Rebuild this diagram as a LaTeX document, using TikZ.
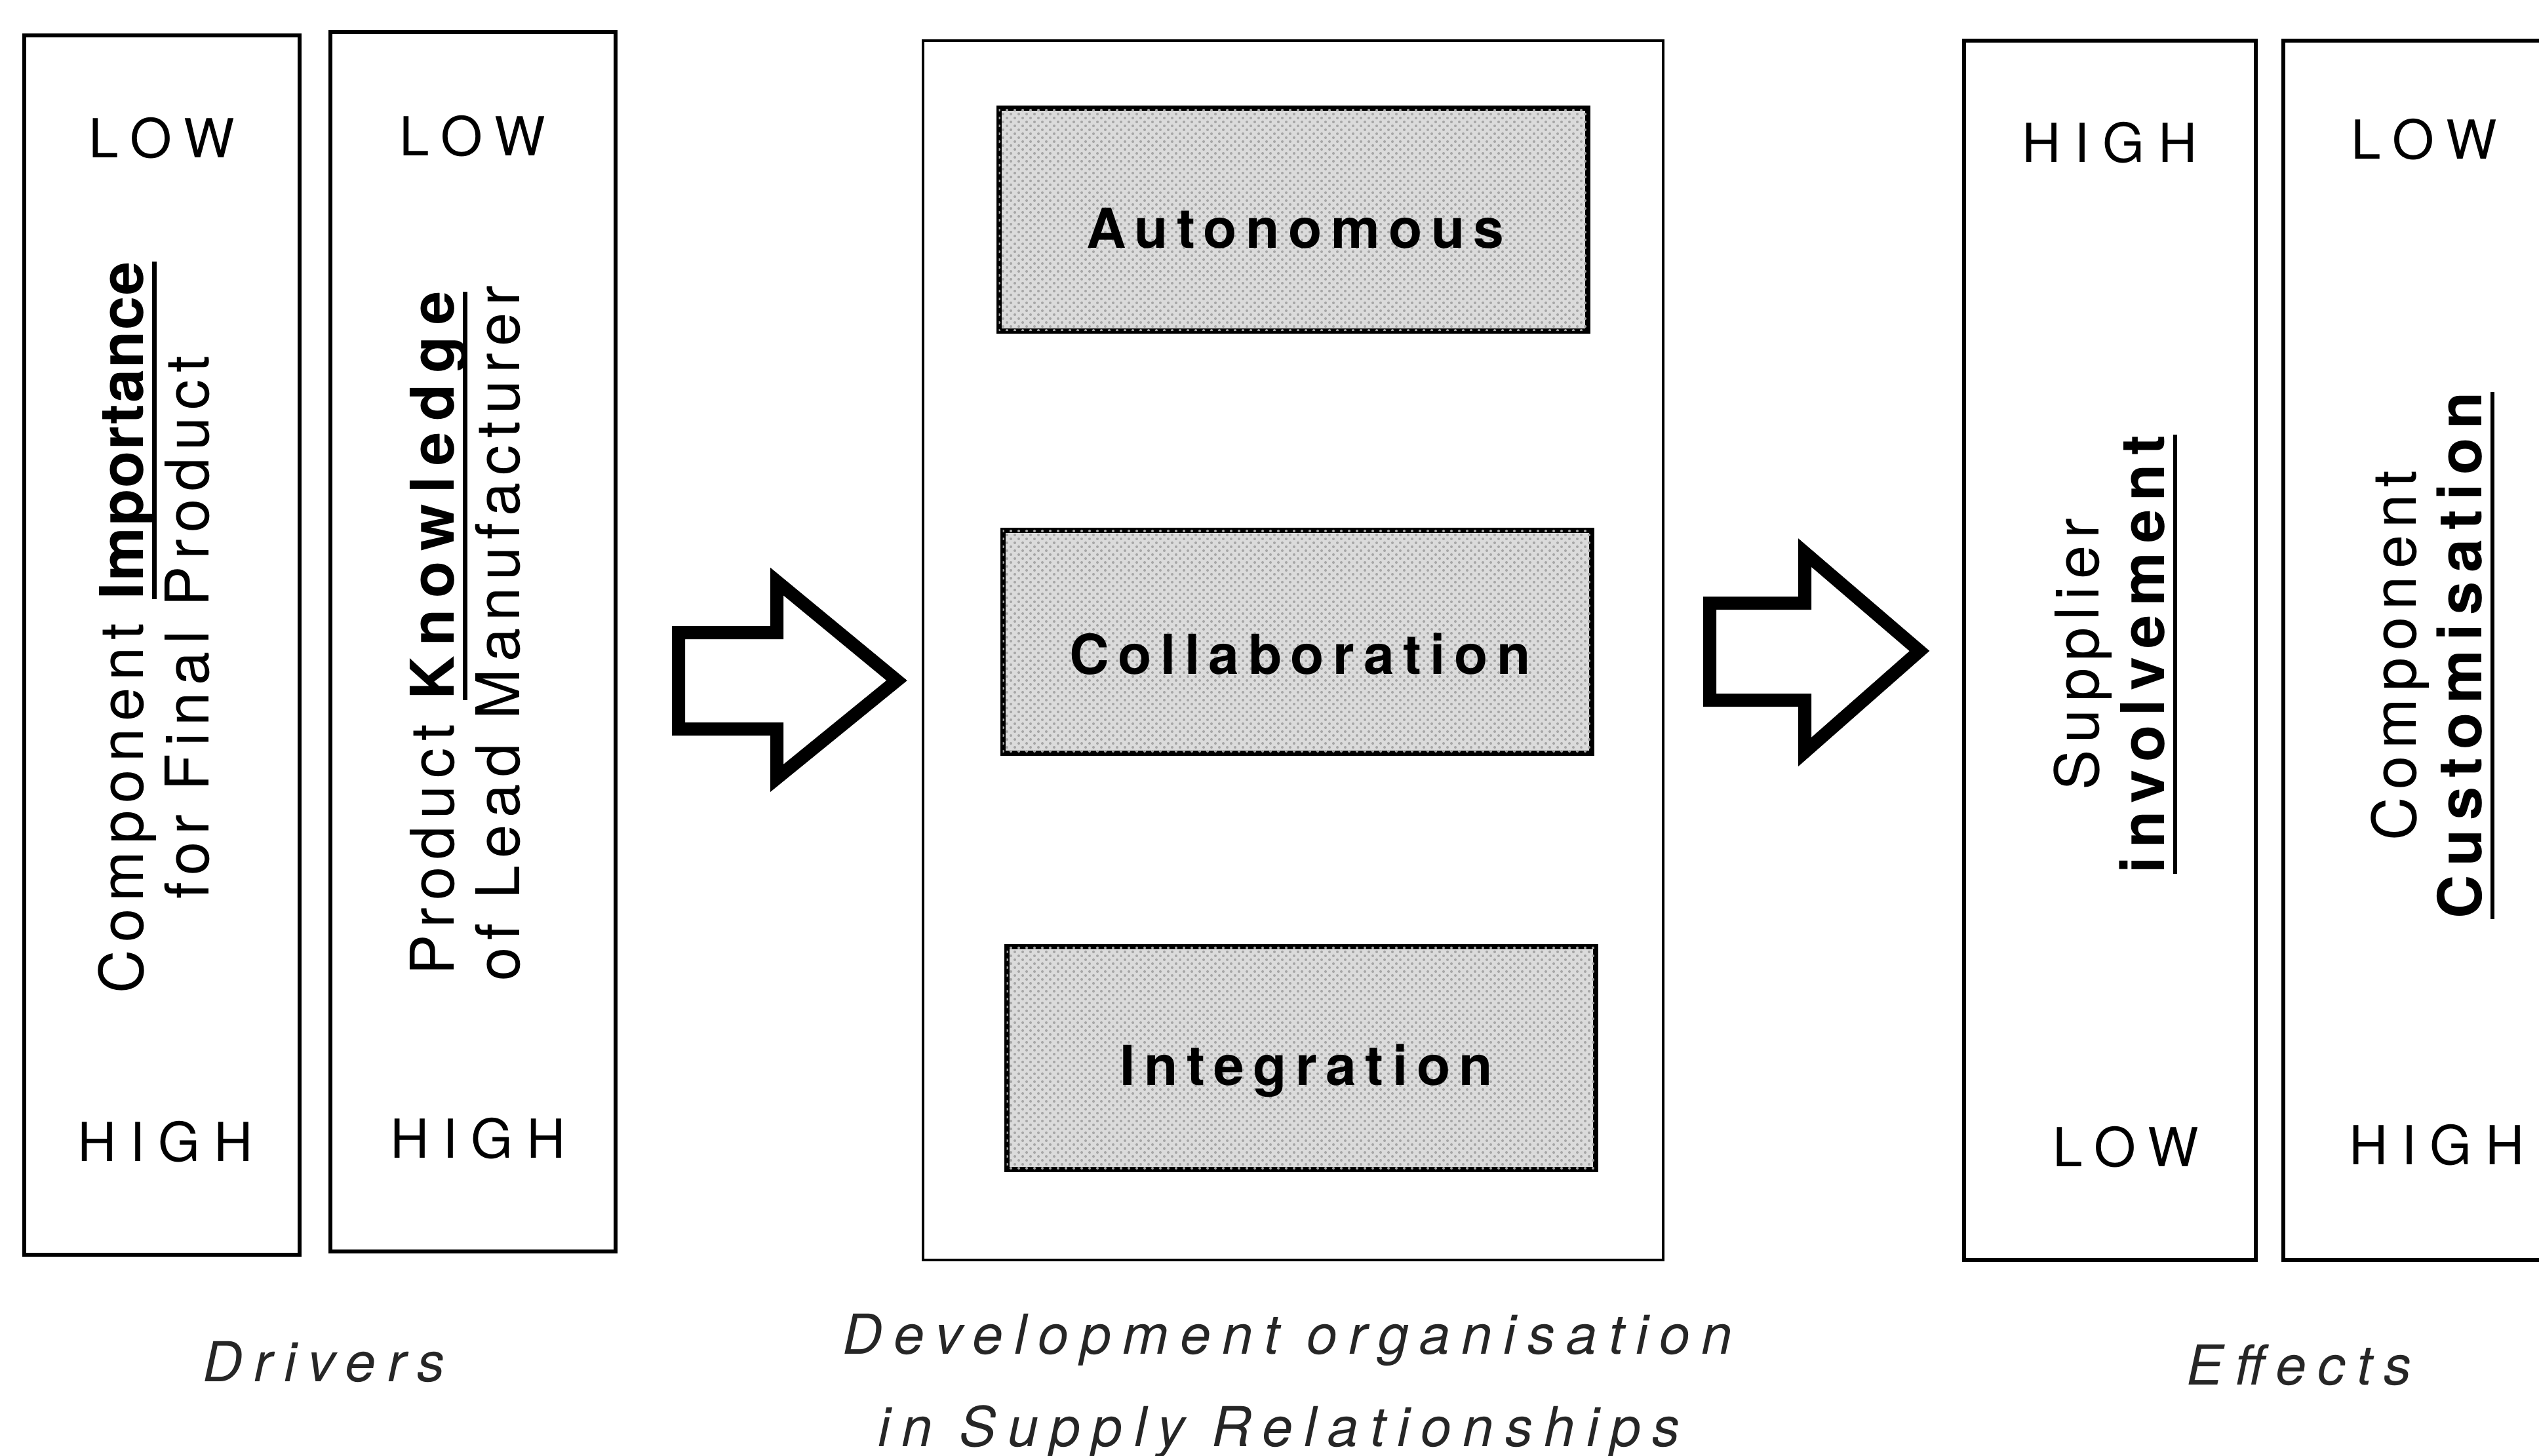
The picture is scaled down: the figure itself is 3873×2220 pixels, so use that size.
\documentclass[tikz,border=0pt]{standalone}
\usepackage{fontspec}
\setmainfont{TeX Gyre Heros}
\newfontfamily\lhfont[LetterSpace=25]{TeX Gyre Heros}
\newfontfamily\vfont[LetterSpace=12]{TeX Gyre Heros}
\newfontfamily\vbnarrow[LetterSpace=2]{TeX Gyre Heros}
\newfontfamily\vbwide[LetterSpace=15]{TeX Gyre Heros}
\newfontfamily\vbwider[LetterSpace=18]{TeX Gyre Heros}
\newfontfamily\modefont[LetterSpace=16]{TeX Gyre Heros}
\newfontfamily\capfont[LetterSpace=21]{TeX Gyre Heros}
\usetikzlibrary{patterns}
\newcommand{\thickul}[1]{\setbox0\hbox{#1}\rlap{\rule[-5pt]{\wd0}{1.6pt}}\box0}
\begin{document}
\begin{tikzpicture}[x=0.25pt,y=-0.25pt,
  drvbox/.style={draw, line width=1.6pt, minimum height=465pt, inner sep=0pt},
  orgbox/.style={draw, line width=0.8pt, minimum width=282.25pt, minimum height=465pt, inner sep=0pt},
  modebox/.style={draw, line width=2pt, fill=black!14, minimum width=224.5pt, minimum height=85pt, inner sep=0pt,
    postaction={pattern=crosshatch dots, pattern color=black!35}},
  modelabel/.style={anchor=base, font=\modefont\fontsize{21}{25}\selectfont\bfseries, inner sep=0pt},
  lh/.style={anchor=base, font=\lhfont\fontsize{20.5}{24}\selectfont, inner sep=0pt},
  vtext/.style={rotate=90, align=center, inner sep=0pt, font=\vfont\fontsize{23}{25}\selectfont},
  captext/.style={anchor=base, inner sep=0pt, text=black!85, font=\capfont\fontsize{21}{25}\selectfont\itshape},
  bigarrow/.style={draw, line width=5pt, fill=white, line join=miter}
]
\useasboundingbox (0,0) rectangle (3873,2220);
\fill[white] (0,0) rectangle (3873,2220);
\clip (0,0) rectangle (3873,2220);

% Drivers
\node[drvbox, minimum width=105pt] (b1) at (247,984) {};
\node[drvbox, minimum width=108.75pt] (b2) at (721.5,979) {};
\node[lh] (b1low) at (247,240) {LOW};
\node[lh] (b1high) at (252,1771) {HIGH};
\node[lh] (b2low) at (721,237) {LOW};
\node[lh] (b2high) at (729,1766) {HIGH};
\node[vtext] (b1t) at (235,957) {Component \thickul{\vbnarrow\bfseries Importance}\\for Final Product};
\node[vtext] (b2t) at (710,966) {Product \thickul{\vbwider\bfseries Knowledge}\\of Lead Manufacturer};
\node[captext] (drv) at (494,2107) {Drivers};

% arrow 1
\draw[bigarrow] (1035,965) -- (1185,965) -- (1185,887) -- (1368,1038) -- (1185,1187) -- (1185,1112) -- (1035,1112) -- cycle;

% Development organisation
\node[orgbox] (org) at (1972.5,992) {};
\node[modebox] (auto) at (1972.5,334.5) {};
\node[modebox] (coll) at (1978.5,978.5) {};
\node[modebox] (integ) at (1984.5,1614) {};
\node[modelabel] (tauto) at (1976,378) {Autonomous};
\node[modelabel] (tcoll) at (1983,1028) {Collaboration};
\node[modelabel] (tinteg) at (1993,1655) {Integration};
\node[captext] (org1) at (1964,2065) {Development organisation};
\node[captext] (org2) at (1951,2206) {in Supply Relationships};

% arrow 2
\draw[bigarrow] (2608,920) -- (2753,920) -- (2753,843) -- (2928,993) -- (2753,1147) -- (2753,1068) -- (2608,1068) -- cycle;

% Effects
\node[drvbox, minimum width=111.25pt] (b3) at (3218.5,992) {};
\node[drvbox, minimum width=111.25pt] (b4) at (3705.5,992) {};
\node[lh] (b3high) at (3218,247) {HIGH};
\node[lh] (b3low) at (3243,1779) {LOW};
\node[lh] (b4low) at (3698,242) {LOW};
\node[lh] (b4high) at (3717,1776) {HIGH};
\node[vtext] (b3t) at (3227,998) {Supplier\\\thickul{\vbwide\bfseries involvement}};
\node[vtext] (b4t) at (3711,1000) {Component\\\thickul{\vbwide\bfseries Customisation}};
\node[captext] (eff) at (3507,2112) {Effects};
\end{tikzpicture}
\end{document}
